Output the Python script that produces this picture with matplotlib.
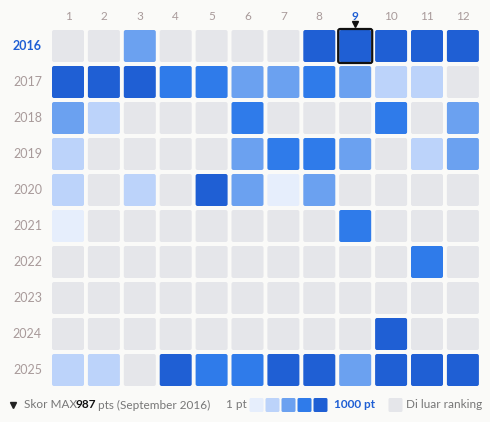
import matplotlib
matplotlib.use("Agg")
import matplotlib.pyplot as plt
from matplotlib.patches import FancyBboxPatch

years = [2016,2017,2018,2019,2020,2021,2022,2023,2024,2025]
months = [1,2,3,4,5,6,7,8,9,10,11,12]
levels = [
 [0,0,3,0,0,0,0,5,5,5,5,5],
 [5,5,5,4,4,3,3,4,3,2,2,0],
 [3,2,0,0,0,4,0,0,0,4,0,3],
 [2,0,0,0,0,3,4,4,3,0,2,3],
 [2,0,2,0,5,3,1,3,0,0,0,0],
 [1,0,0,0,0,0,0,0,4,0,0,0],
 [0,0,0,0,0,0,0,0,0,0,4,0],
 [0,0,0,0,0,0,0,0,0,0,0,0],
 [0,0,0,0,0,0,0,0,0,5,0,0],
 [2,2,0,5,4,4,5,5,3,5,5,5],
]
colors = ["#e5e6ea","#e6eefc","#bcd3fa","#6ba1f0","#2f7bea","#1f5fd4"]
hl_year, hl_month = 2016, 9

fig = plt.figure(figsize=(4.9,4.22), dpi=100, facecolor="#fafaf8")
ax = fig.add_axes([0,0,1,1])
ax.set_xlim(0,490); ax.set_ylim(422,0); ax.axis("off")
x0, y0, px, py, w = 68, 46, 35.9, 36, 32
font = "Lato"
for j,m in enumerate(months):
    hl = m == hl_month
    ax.text(x0+j*px, 17, str(m), ha="center", va="center", fontsize=8.5, family=font,
            color="#1f5fd4" if hl else "#a89a9a", fontweight="bold" if hl else "normal")
ax.plot([x0+(hl_month-1)*px],[24], marker="v", color="#111", markersize=5)
for i,y in enumerate(years):
    hl = y == hl_year
    ax.text(42, y0+i*py, str(y), ha="right", va="center", fontsize=9, family=font,
            color="#1f5fd4" if hl else "#a89a9a", fontweight="bold" if hl else "normal")
    for j,m in enumerate(months):
        cx, cy = x0+j*px, y0+i*py
        ax.add_patch(FancyBboxPatch((cx-w/2+2, cy-w/2+2), w-4, w-4, boxstyle="round,pad=2",
                     fc=colors[levels[i][j]], ec="none"))
        if hl and m == hl_month:
            ax.add_patch(FancyBboxPatch((cx-w/2+1, cy-w/2+1), w-2, w-2, boxstyle="round,pad=2",
                         fc="none", ec="#111", lw=1.6))
ly = 405
fs = 8.5
ax.plot([13],[ly], marker="v", color="#222", markersize=4.5)
ax.text(24, ly, "Skor MAX", ha="left", va="center", fontsize=fs, family=font, color="#777")
ax.text(75, ly, "987", ha="left", va="center", fontsize=fs, family=font, color="#111", fontweight="bold")
ax.text(98, ly, "pts (September 2016)", ha="left", va="center", fontsize=fs, family=font, color="#777")
ax.text(226, ly, "1 pt", ha="left", va="center", fontsize=fs, family=font, color="#777")
for k in range(1,6):
    cx = 250 + (k-1)*16
    ax.add_patch(FancyBboxPatch((cx+1, ly-5.5), 11, 11, boxstyle="round,pad=1.5", fc=colors[k], ec="none"))
ax.text(334, ly, "1000 pt", ha="left", va="center", fontsize=fs, family=font, color="#1f5fd4", fontweight="bold")
ax.add_patch(FancyBboxPatch((390, ly-5.5), 11, 11, boxstyle="round,pad=1.5", fc=colors[0], ec="none"))
ax.text(406, ly, "Di luar ranking", ha="left", va="center", fontsize=fs, family=font, color="#777")
fig.savefig("out.png", dpi=100, facecolor=fig.get_facecolor())
